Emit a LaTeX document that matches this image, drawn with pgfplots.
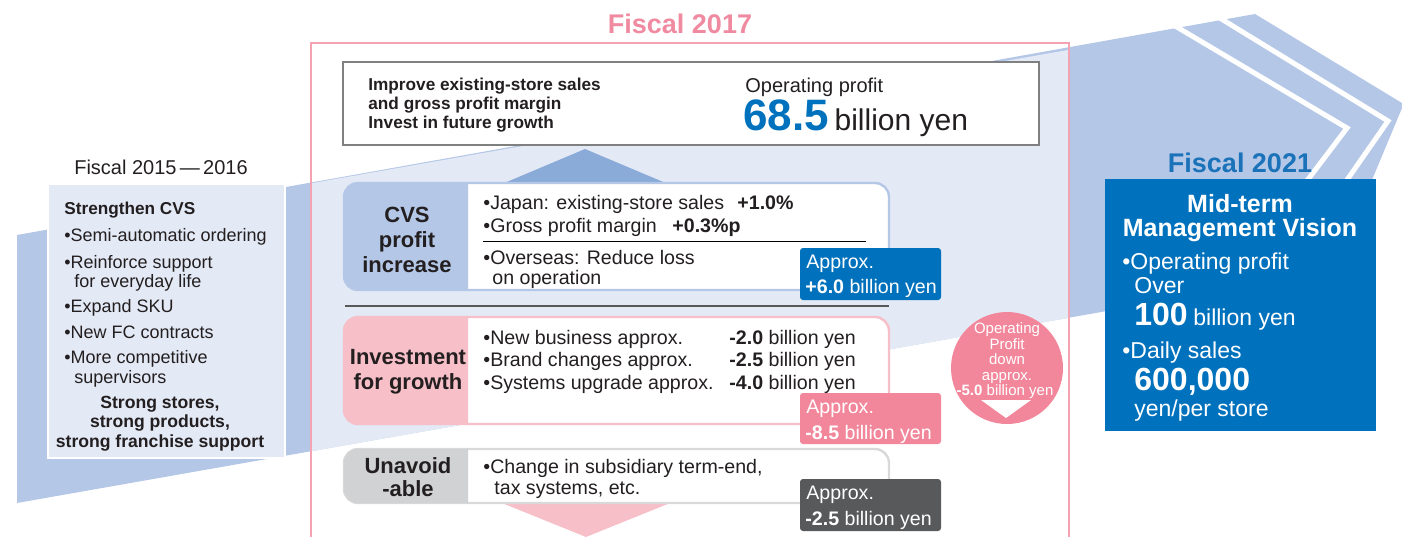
\documentclass[border=0pt]{standalone}
\usepackage{pgfplots}
\pgfplotsset{compat=1.18}
\usepackage{fontspec}
\setmainfont{Liberation Sans}
\definecolor{bandmid}{HTML}{B4C7E7}
\definecolor{bandlight}{HTML}{E3E9F5}
\definecolor{tri}{HTML}{8AAAD8}
\definecolor{cvslab}{HTML}{B4C7E7}
\definecolor{pinklab}{HTML}{F7BFC8}
\definecolor{graylab}{HTML}{D1D2D4}
\definecolor{grayborder}{HTML}{D9D9D9}
\definecolor{apxblue}{HTML}{0071BC}
\definecolor{apxpink}{HTML}{F2879B}
\definecolor{apxgray}{HTML}{58595B}
\definecolor{framepink}{HTML}{F4A3B3}
\definecolor{titlepink}{HTML}{F08AA0}
\definecolor{titleblue}{HTML}{1A72B9}
\definecolor{txt}{HTML}{231F20}
\definecolor{boxgray}{HTML}{808080}
\definecolor{sepgray}{HTML}{595959}
\newcommand{\fs}[1]{\fontsize{#1}{#1}\selectfont}
\tikzset{L/.style={anchor=base west, inner sep=0pt, text=txt},
         C/.style={anchor=base, inner sep=0pt, text=txt}}
\begin{document}
\begin{tikzpicture}
\begin{axis}[width=701pt, height=268.5pt, scale only axis,
  xmin=0, xmax=1402, ymin=0, ymax=537, y dir=reverse,
  hide axis, no markers]
\path (0,0) rectangle (1402,537);
% background band
\addplot[fill=bandmid, draw=none] coordinates {(17,235) (1255,14) (1402,103) (1402,108) (1334,271) (17,503)} -- cycle;
\addplot[fill=bandlight, draw=none] coordinates {(311,183.3) (1069,49.8) (1069,317.8) (311,451.3)} -- cycle;
% chevron stripes
\draw[white, line width=2.5pt] (1165,20) -- (1347,128) -- (1300,190);
\draw[white, line width=2.5pt] (1210,12) -- (1388,121) -- (1340,190);
% left box
\draw[fill=bandlight, draw=white, line width=0.8pt] (48,184) rectangle (285,458);
% frame
\draw[framepink, line width=0.8pt] (311,537) -- (311,43) -- (1069,43) -- (1069,537);
% top box
\draw[fill=white, draw=boxgray, line width=0.9pt] (343,62) rectangle (1039,145);
% up triangle and down triangle
\addplot[fill=tri, draw=none] coordinates {(502,184) (585,149) (668,184)} -- cycle;
\addplot[fill=pinklab, draw=none] coordinates {(502,503) (670,503) (586,537)} -- cycle;
% CVS box
\draw[fill=white, draw=cvslab, line width=1.2pt, rounded corners=7pt] (344,183) rectangle (889,290);
\begin{scope}
\clip (330,170) rectangle (468,300);
\fill[cvslab, rounded corners=7pt] (344,183) rectangle (889,290);
\end{scope}
\draw[sepgray, line width=0.6pt] (345,306) -- (889,306);
% Investment box
\draw[fill=white, draw=pinklab, line width=1.2pt, rounded corners=7pt] (344,317) rectangle (889,424);
\begin{scope}
\clip (330,305) rectangle (468,435);
\fill[pinklab, rounded corners=7pt] (344,317) rectangle (889,424);
\end{scope}
% Unavoidable box
\draw[fill=white, draw=grayborder, line width=1.2pt, rounded corners=7pt] (344,449) rectangle (889,503);
\begin{scope}
\clip (330,440) rectangle (468,510);
\fill[graylab, rounded corners=7pt] (344,449) rectangle (889,503);
\end{scope}
% approx boxes
\fill[apxblue, rounded corners=1.5pt] (800,248) rectangle (941,300);
\fill[apxpink, rounded corners=1.5pt] (800,393) rectangle (941,444);
\fill[apxgray, rounded corners=1.5pt] (800,479) rectangle (941,531);
% circle
\fill[apxpink] (1007,368) circle[radius=28pt];
\addplot[fill=white, draw=none] coordinates {(981,400) (1031,400) (1006,418)} -- cycle;
% right box
\fill[apxblue] (1105,179) rectangle (1376,431);

% ---- texts: left
\node[C] at (161,174) {\fs{10}Fiscal 2015\,—\,2016};
\node[L] at (64,214) {\fs{8.6}\bfseries Strengthen CVS};
\node[L] at (64,241.5) {\fs{9}•Semi-automatic ordering};
\node[L] at (64,268.5) {\fs{9}•Reinforce support};
\node[L] at (74,287.5) {\fs{9}for everyday life};
\node[L] at (64,312.5) {\fs{9}•Expand SKU};
\node[L] at (64,338.5) {\fs{9}•New FC contracts};
\node[L] at (64,363.5) {\fs{9}•More competitive};
\node[L] at (74,383.5) {\fs{9}supervisors};
\node[C] at (160,408) {\fs{8.8}\bfseries Strong stores,};
\node[C] at (160,427) {\fs{8.8}\bfseries strong products,};
\node[C] at (160,447) {\fs{8.8}\bfseries strong franchise support};
% ---- center
\node[C, text=titlepink] at (680,33) {\fs{13.5}\bfseries Fiscal 2017};
\node[L] at (368,90) {\fs{8.6}\bfseries Improve existing-store sales};
\node[L] at (368,109) {\fs{8.6}\bfseries and gross profit margin};
\node[L] at (368,128) {\fs{8.6}\bfseries Invest in future growth};
\node[L] at (745,92) {\fs{10}Operating profit};
\node[L] at (743,130) {{\fs{22}\bfseries\color{apxblue}68.5} {\fs{15}billion yen}};
\node[C] at (407,222) {\fs{11}\bfseries CVS};
\node[C] at (407,247) {\fs{11}\bfseries profit};
\node[C] at (407,272) {\fs{11}\bfseries increase};
\node[L] at (483,209) {\fs{9.8}•Japan: existing-store sales};
\node[L] at (737,209) {\fs{9.8}\bfseries +1.0\%};
\node[L] at (483,232) {\fs{9.8}•Gross profit margin};
\node[L] at (672,232) {\fs{9.8}\bfseries +0.3\%p};
\draw[black, line width=0.5pt] (483,241) -- (866,241);
\node[L] at (483,264) {\fs{9.8}•Overseas: Reduce loss};
\node[L] at (492,284) {\fs{9.8}on operation};
\node[L, text=white] at (806,268) {\fs{9.8}Approx.};
\node[L, text=white] at (805,293) {\fs{9.8}\textbf{+6.0} billion yen};
\node[C] at (408,364) {\fs{11}\bfseries Investment};
\node[C] at (408,389) {\fs{11}\bfseries for growth};
\node[L] at (483,344) {\fs{9.8}•New business approx.};
\node[L] at (729,344) {\fs{9.8}\textbf{-2.0} billion yen};
\node[L] at (483,366) {\fs{9.8}•Brand changes approx.};
\node[L] at (729,366) {\fs{9.8}\textbf{-2.5} billion yen};
\node[L] at (483,389) {\fs{9.8}•Systems upgrade approx.};
\node[L] at (729,389) {\fs{9.8}\textbf{-4.0} billion yen};
\node[L, text=white] at (806,413) {\fs{9.8}Approx.};
\node[L, text=white] at (805,439) {\fs{9.8}\textbf{-8.5} billion yen};
\node[C] at (408,473) {\fs{11}\bfseries Unavoid};
\node[C] at (408,496) {\fs{11}\bfseries -able};
\node[L] at (483,473) {\fs{9.8}•Change in subsidiary term-end,};
\node[L] at (494,494) {\fs{9.8}tax systems, etc.};
\node[L, text=white] at (806,499) {\fs{9.8}Approx.};
\node[L, text=white] at (805,525) {\fs{9.8}\textbf{-2.5} billion yen};
% circle text
\node[C, text=white] at (1007,333) {\fs{7.5}Operating};
\node[C, text=white] at (1007,349) {\fs{7.5}Profit};
\node[C, text=white] at (1007,364) {\fs{7.5}down};
\node[C, text=white] at (1007,380) {\fs{7.5}approx.};
\node[C, text=white] at (1005,395) {\fs{7.5}\textbf{-5.0} billion yen};
% ---- right
\node[C, text=titleblue] at (1240,172) {\fs{13.5}\bfseries Fiscal 2021};
\node[C, text=white] at (1240,212) {\fs{12.5}\bfseries Mid-term};
\node[C, text=white] at (1240,236) {\fs{12.5}\bfseries Management Vision};
\node[L, text=white] at (1122,269) {\fs{11.5}•Operating profit};
\node[L, text=white] at (1134,293) {\fs{11.5}Over};
\node[L, text=white] at (1134,325) {{\fs{16}\bfseries 100} {\fs{11.5}billion yen}};
\node[L, text=white] at (1122,358) {\fs{11.5}•Daily sales};
\node[L, text=white] at (1134,390) {\fs{16}\bfseries 600,000};
\node[L, text=white] at (1134,416) {\fs{11.5}yen/per store};
\end{axis}
\end{tikzpicture}
\end{document}
